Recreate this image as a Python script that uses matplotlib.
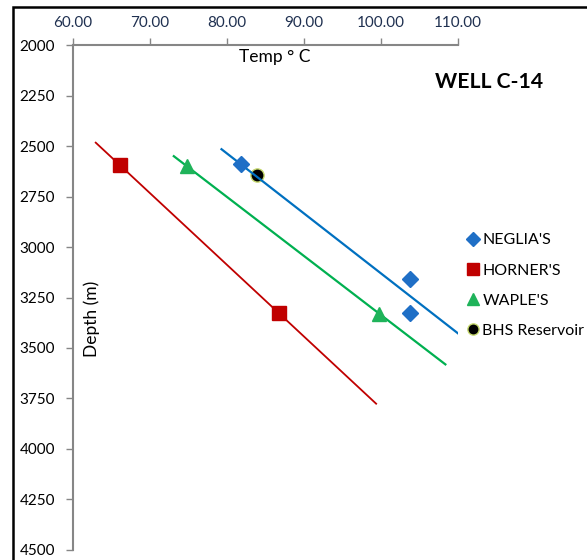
import numpy as np
import matplotlib.pyplot as plt
from matplotlib.patches import Rectangle

plt.rcParams['font.family'] = ['Lato', 'DejaVu Sans']

# data (temperature in deg C, depth in m)
neglia_t = [81.8, 103.8, 103.8]
neglia_d = [2590, 3156, 3329]
horner_t = [66.1, 86.8]
horner_d = [2595, 3329]
waple_t = [74.8, 99.8]
waple_d = [2600, 3330]
bhs_t = [83.9]
bhs_d = [2645]

x_ticks = [60, 70, 80, 90, 100, 110]
y_ticks = [2000, 2250, 2500, 2750, 3000, 3250, 3500, 3750, 4000, 4250, 4500]

fig = plt.figure(figsize=(5.87, 5.60), dpi=100)
ax = fig.add_axes([0.1244, 0.0179, 0.6553, 0.9017])

# frame of the original image
fig.patches.append(Rectangle((13 / 587, -0.1), 1.2, 1.1 - 7 / 560,
                             transform=fig.transFigure, fill=False,
                             edgecolor='black', linewidth=1.8))


def trend(ax, t, d, back, fwd, color, lw):
    # linear trendline (depth vs temp), extended both ways
    k, b = np.polyfit(t, d, 1)
    xs = np.array([min(t) - back, max(t) + fwd])
    ax.plot(xs, k * xs + b, color=color, linewidth=lw, zorder=3)


l4, = ax.plot(bhs_t, bhs_d, 'o', color='black', markeredgecolor='#c5d86d',
              markersize=9.5, markeredgewidth=1, label="BHS Reservoir",
              zorder=2)
trend(ax, neglia_t, neglia_d, 2.5, 6.75, '#0070c0', 1.6)
trend(ax, horner_t, horner_d, 3.15, 12.6, '#c00000', 1.3)
trend(ax, waple_t, waple_d, 1.7, 8.6, '#00b050', 1.6)

l1, = ax.plot(neglia_t, neglia_d, 'D', color='#1f6fc6', markersize=8.5,
              label="NEGLIA'S", zorder=4)
l2, = ax.plot(horner_t, horner_d, 's', color='#c00000', markersize=10,
              label="HORNER'S", zorder=4)
l3, = ax.plot(waple_t, waple_d, '^', color='#1fb35a', markersize=10.5,
              label="WAPLE'S", zorder=4)

ax.set_xlim(60, 110)
ax.set_ylim(4500, 2000)
ax.set_xticks(x_ticks)
ax.set_xticklabels([f"{v:.2f}" for v in x_ticks])
ax.set_yticks(y_ticks)
ax.xaxis.tick_top()
ax.tick_params(axis='both', colors='#868686', labelcolor='black',
               labelsize=11, length=5, width=1, direction='out')
ax.tick_params(axis='x', labelcolor='#1f3050', pad=6)
ax.tick_params(axis='y', pad=8)
for s in ['right', 'bottom']:
    ax.spines[s].set_visible(False)
for s in ['top', 'left']:
    ax.spines[s].set_color('#868686')
    ax.spines[s].set_linewidth(1.5)

ax.text(86.2, 2058, "Temp ° C", fontsize=12.5, ha='center', va='center')
ax.text(62.4, 3355, "Depth (m)", fontsize=12.5, rotation=90,
        ha='center', va='center')
ax.text(114.1, 2182, "WELL C-14", fontsize=15.2, fontweight='bold',
        ha='center', va='center', clip_on=False)

ax.legend(handles=[l1, l2, l3, l4], loc='upper left',
          bbox_to_anchor=(1.01, 0.64), frameon=False, fontsize=11.5,
          handlelength=0.6, handletextpad=0.3, labelspacing=1.0,
          borderaxespad=0, markerscale=0.85)

fig.savefig('out.png', dpi=100)
